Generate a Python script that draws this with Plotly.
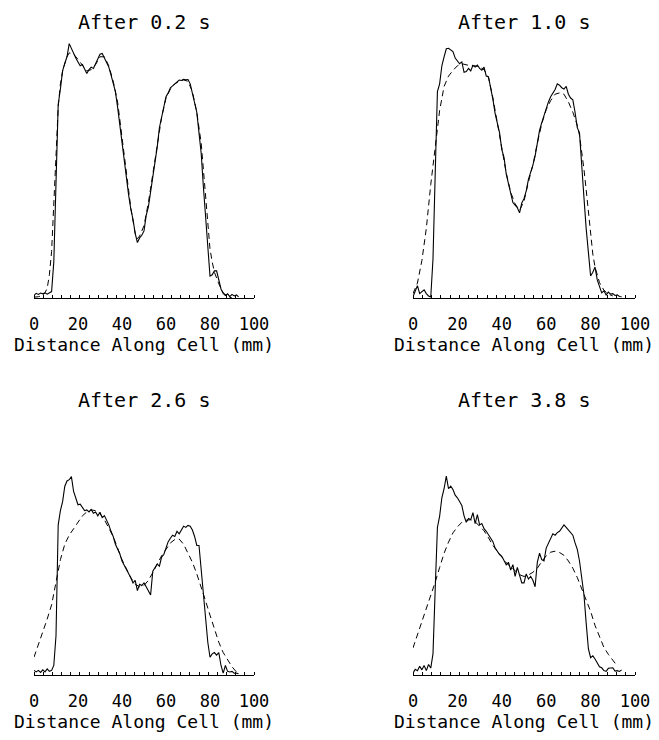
import plotly.graph_objects as go

# ---------------- data ----------------
DIST_MM = list(range(0, 95))          # measured profiles sampled every 1 mm
X_TICKS = [0, 20, 40, 60, 80, 100]
PANEL_TITLES = ["After 0.2 s", "After 1.0 s", "After 2.6 s", "After 3.8 s"]
X_TITLE = "Distance Along Cell (mm)"

MEAS_02 = [1.0, 1.8, 1.4, 1.9, 1.6, 2.0, 1.5, 1.9, 2.5, 14,
           50, 75, 81, 88, 91, 93.5, 98.6, 96.5, 95, 93,
           91.5, 90, 90.5, 88.5, 87, 88.5, 89.5, 89, 91, 93,
           94.5, 94.8, 93, 91, 89.5, 86.5, 83.3, 80, 74, 67,
           60, 54, 46.5, 40, 34.5, 30.5, 25, 21.5, 23.3, 24.3,
           26, 32, 35.3, 41, 48, 52, 58.5, 66, 70, 74,
           78, 79.5, 81.5, 82.2, 83, 84, 84.5, 84.3, 84.8, 84.6,
           84.7, 83, 79, 75.5, 72, 64, 56, 43, 32, 22,
           8.5, 9, 10.5, 10.5, 7, 3.5, 1.8, 1.0, 1.6, 0.5,
           1.4, 0.8, 1.2, 0.4]
MODEL_02_X = [0, 2, 4, 5, 6, 7, 8, 9, 10, 11,
              12, 13, 14, 15, 16, 18, 20, 22, 24, 26,
              28, 30, 32, 34, 36, 38, 40, 42, 44, 46,
              47, 48, 50, 52, 54, 56, 58, 60, 62, 64,
              66, 68, 70, 72, 74, 76, 78, 79, 80, 81,
              82, 84, 86, 88, 90]
MODEL_02 = [0.3, 0.5, 1.0, 2.0, 3.8, 9, 18, 34, 55, 74,
            83, 88, 91, 93.5, 95, 94.5, 92.5, 90, 88, 88.5,
            90.5, 93.5, 93.5, 90, 84, 76, 63, 49, 35, 25,
            23, 24, 28, 37, 48, 58, 70, 77.5, 81, 83,
            84, 84.5, 84, 80, 72, 60, 40, 28, 19, 14,
            10, 5.5, 2, 0.6, 0]

MEAS_10 = [0.5, 2.5, 4.8, 1.7, 2.5, 3.2, 1.7, 0.8, 0.4, 15,
           48, 80, 83, 90, 93.5, 96.6, 96.8, 96.2, 95.5, 93,
           91.8, 90.8, 91.5, 87.5, 87.8, 89, 88, 90.2, 89.5, 90.3,
           89, 88.3, 89.5, 86, 85.7, 81.5, 77, 71.5, 67, 64,
           57.5, 54.5, 48, 44, 40.5, 37, 36, 35, 33, 36.8,
           38.5, 41.5, 46, 48.5, 51.5, 55, 60.5, 65, 68, 71,
           73.5, 76, 78, 79.5, 80.8, 83, 82.5, 81.5, 81, 82,
           79, 77.5, 76.8, 72, 66, 64, 50, 39, 27, 16,
           8.5, 10, 12, 7, 4.8, 2, 2.8, 1.2, 2.3, 1.5,
           1.7, 1.0, 1.2, 0.6, 0.5]
MODEL_10_X = [0, 2, 4, 6, 8, 10, 12, 14, 16, 18,
              20, 22, 24, 26, 28, 30, 32, 34, 36, 38,
              40, 42, 44, 46, 48, 50, 52, 54, 56, 58,
              60, 62, 64, 66, 68, 70, 72, 74, 75, 76,
              77, 78, 79, 80, 81, 82, 83, 84, 85, 86,
              88, 90]
MODEL_10 = [1.7, 5.8, 14.5, 27, 44, 58, 72.7, 82, 86, 88.2,
            90, 90.8, 90.5, 90, 90, 89.5, 88.5, 85.5, 77.5, 67.5,
            58, 48.5, 41, 36.5, 34, 37.5, 45, 51.5, 60, 67.5,
            73, 76.5, 79, 79.5, 79, 76, 72, 67, 63, 57,
            50, 42, 33, 24, 17, 12, 8.5, 6, 4.5, 3,
            1.5, 0.8]

MEAS_26 = [1.6, 1.0, 1.6, 0.8, 1.8, 1.0, 2.2, 1.2, 1.6, 3.5,
           15, 58, 63.5, 67, 73, 75, 75.5, 76.7, 71, 68.5,
           65.8, 66, 64.5, 63.5, 63.8, 63, 64, 62.5, 63, 61.5,
           62.9, 60.8, 61.6, 60, 58, 55.5, 53.5, 50.5, 48.5, 46.8,
           44, 42.5, 40.5, 39, 37.5, 35.5, 36.5, 32.5, 35, 34.5,
           35.5, 34, 32.6, 30.8, 40, 41.6, 42.8, 42, 45.5, 46.5,
           49.5, 51.5, 52.8, 54, 53.5, 55.5, 54.5, 56.2, 57.5, 57,
           57.8, 57.5, 56, 53.5, 50, 50, 41, 32.6, 24, 12.5,
           6.7, 8, 8.5, 7.5, 8.5, 3.5, 0.5, 3.5, 1.2, 1.0,
           1.2, 0.5, 0.6, 0.2]
MODEL_26_X = [0, 2, 4, 6, 8, 10, 12, 14, 16, 18,
              20, 22, 24, 26, 28, 30, 32, 34, 36, 38,
              40, 42, 44, 46, 48, 50, 52, 54, 56, 58,
              60, 62, 64, 66, 68, 70, 72, 74, 76, 78,
              80, 82, 84, 86, 88, 90, 92]
MODEL_26 = [6.7, 11.5, 16.5, 21.5, 27, 36, 44.5, 50.5, 54, 56.5,
            59, 61.5, 63, 63.8, 63.5, 62.3, 60, 57, 53.5, 49,
            44.5, 41, 37.5, 35, 34, 34.5, 36.5, 39.5, 43, 46,
            48.5, 51, 52.3, 52.5, 50.5, 47, 43.5, 39, 34, 28.5,
            23, 17.5, 12.5, 8.5, 5.5, 3, 1]

MEAS_38 = [0.6, 2.0, 1.5, 3.2, 1.8, 3.5, 1.5, 3.9, 2.5, 8,
           33, 57, 61.4, 68.5, 72, 76.9, 72, 73, 71.7, 69.5,
           68.5, 67.2, 65.5, 61.5, 59, 60.5, 60, 62.7, 58.5, 62,
           58, 58.5, 56.5, 55.5, 54, 52.5, 51.5, 49, 47.5, 46.5,
           45.8, 44, 42.5, 43.5, 40.5, 42.6, 38, 41.5, 38.5, 35.5,
           35.5, 39, 37, 38, 36.5, 34, 43.5, 47, 44.5, 44,
           49, 51, 53, 54.5, 54, 55, 55.5, 57, 58, 57,
           56, 55, 54, 51, 48.5, 44, 37.5, 31, 20, 10,
           6.5, 7.2, 6, 4.5, 3, 2.6, 1.5, 1.2, 2.4, 2.5,
           2.6, 1.3, 1.5, 1.2, 1.8]
MODEL_38_X = [0, 2, 4, 6, 8, 10, 12, 14, 16, 18,
              20, 22, 24, 26, 28, 30, 32, 34, 36, 38,
              40, 42, 44, 46, 48, 50, 52, 54, 56, 58,
              60, 62, 64, 66, 68, 70, 72, 74, 76, 78,
              80, 82, 84, 86, 88, 90, 92]
MODEL_38 = [10.3, 15.3, 21, 26, 30.5, 35.8, 41.5, 47, 51.3, 54.9,
            57.2, 59, 59.8, 60, 59.2, 57.5, 55.7, 53, 50, 47.8,
            45.4, 43.3, 41.7, 40, 38.7, 38, 38.6, 39.6, 41.2, 43.8,
            46, 47.4, 47.8, 47.3, 46.2, 44, 41.2, 37.6, 33, 28.7,
            24.5, 19, 14.5, 10.5, 7.8, 5.5, 3.3]

MEASURED = [MEAS_02, MEAS_10, MEAS_26, MEAS_38]
MODEL_X = [MODEL_02_X, MODEL_10_X, MODEL_26_X, MODEL_38_X]
MODEL_Y = [MODEL_02, MODEL_10, MODEL_26, MODEL_38]

# ---------------- layout ----------------
# the page body has an 8 px margin, so the figure is drawn 8 px in from the
# window's top-left corner; positions below are window pixels minus that.
OFF = 8
W, H = 659 - OFF, 740 - OFF


def px_x(p):
    return (p - OFF) / W


def px_y(p):
    return 1 - (p - OFF) / H


X_DOMAINS = [(px_x(34), px_x(254)), (px_x(413), px_x(635))]
Y_DOMAINS = [(px_y(298), px_y(40)), (px_y(674.5), px_y(416.5))]
TITLE_Y = [px_y(8), px_y(386)]     # top edge of the panel title boxes

FONT = "DejaVu Sans Mono"

fig = go.Figure()
layout = dict(
    width=W, height=H, template="none",
    margin=dict(l=0, r=0, t=0, b=0),
    paper_bgcolor="white", plot_bgcolor="white",
    showlegend=False, annotations=[],
)

for i in range(4):
    row, col = divmod(i, 2)
    sfx = "" if i == 0 else str(i + 1)
    fig.add_trace(go.Scatter(
        x=DIST_MM[:len(MEASURED[i])], y=MEASURED[i], mode="lines",
        line=dict(color="black", width=1.1), xaxis="x" + sfx, yaxis="y" + sfx,
        hoverinfo="skip"))
    fig.add_trace(go.Scatter(
        x=MODEL_X[i], y=MODEL_Y[i], mode="lines",
        line=dict(color="black", width=1, dash="6px,4px"),
        xaxis="x" + sfx, yaxis="y" + sfx, hoverinfo="skip"))

    layout["xaxis" + sfx] = dict(
        domain=X_DOMAINS[col], anchor="y" + sfx, range=[0, 100],
        showline=True, linecolor="black", linewidth=1, mirror=False,
        showgrid=False, zeroline=False, ticks="",
        tickmode="array", tickvals=X_TICKS, ticktext=[str(v) for v in X_TICKS],
        tickfont=dict(family=FONT, size=17, color="black"),
        ticklabelstandoff=11,
        minor=dict(ticks="inside", dtick=100 / 24, tick0=0, ticklen=3,
                   tickwidth=1, tickcolor="black", showgrid=False),
        title=dict(text=X_TITLE, font=dict(family=FONT, size=18, color="black"),
                   standoff=4),
        automargin=False, fixedrange=True,
    )
    layout["yaxis" + sfx] = dict(
        domain=Y_DOMAINS[row], anchor="x" + sfx, range=[0, 100],
        visible=False, fixedrange=True,
    )
    layout["annotations"].append(dict(
        text=PANEL_TITLES[i], xref="paper", yref="paper",
        x=sum(X_DOMAINS[col]) / 2, y=TITLE_Y[row],
        xanchor="center", yanchor="top", showarrow=False,
        font=dict(family=FONT, size=20, color="black"),
    ))

fig.update_layout(**layout)
fig.write_html("out.html")
